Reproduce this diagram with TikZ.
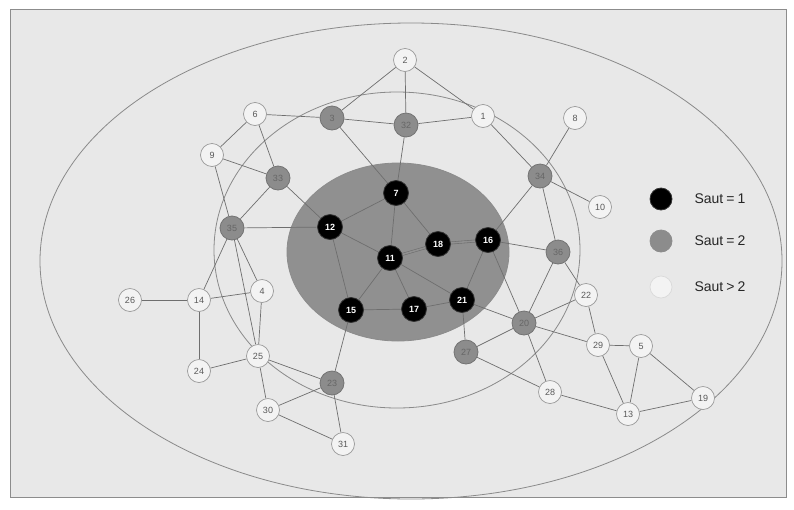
\documentclass[tikz,border=0pt]{standalone}
\usepackage{fontspec}
\setmainfont{Liberation Sans}
\pgfdeclarelayer{bg}
\pgfdeclarelayer{edges}
\pgfsetlayers{bg,edges,main}
\definecolor{bgray}{HTML}{E8E8E8}
\definecolor{ringc}{HTML}{8A8A8A}
\definecolor{innerc}{HTML}{909090}
\definecolor{edgec}{HTML}{6E6E6E}
\definecolor{gnode}{HTML}{8C8C8C}
\definecolor{wnode}{HTML}{F3F3F3}
\tikzset{
  hopone/.style={circle, fill=black, draw=black!80, line width=0.8pt, minimum size=25pt, inner sep=0pt, text=white, font=\fontsize{9}{9}\selectfont\bfseries},
  hoptwo/.style={circle, fill=gnode, draw=black!55, line width=0.8pt, minimum size=24pt, inner sep=0pt, text=black!60, font=\fontsize{9}{9}\selectfont},
  hopmore/.style={circle, fill=wnode, draw=black!40, line width=0.7pt, minimum size=23pt, inner sep=0pt, text=black!65, font=\fontsize{9}{9}\selectfont},
  link/.style={draw=edgec, line width=0.7pt},
  dlink/.style={draw=edgec, double=innerc, double distance=1.6pt, line width=0.6pt},
  ring/.style={draw=ringc, line width=0.8pt},
  legtext/.style={anchor=west, font=\fontsize{14}{14}\selectfont, text=black!85}
}
\begin{document}
\begin{tikzpicture}[x=1pt,y=-1pt]
\useasboundingbox (0,0) rectangle (794,509);
\begin{pgfonlayer}{bg}
\fill[white] (0,0) rectangle (794,509);
\draw[fill=bgray, draw=black!45, line width=0.8pt] (10,9) rectangle (786,497);
\draw[ring] (411,261) ellipse [x radius=371, y radius=238];
\draw[ring] (397,250) ellipse [x radius=183, y radius=158];
\draw[fill=innerc, draw=black!45, line width=0.8pt] (398,252) ellipse [x radius=111, y radius=89];
\end{pgfonlayer}
% hop > 2
\node[hopmore] (n2) at (405,60) {2};
\node[hopmore] (n1) at (483,116) {1};
\node[hopmore] (n6) at (255,114) {6};
\node[hopmore] (n8) at (575,118) {8};
\node[hopmore] (n9) at (212,155) {9};
\node[hopmore] (n10) at (600,207) {10};
\node[hopmore] (n26) at (130,300) {26};
\node[hopmore] (n14) at (199,300) {14};
\node[hopmore] (n4) at (262,291) {4};
\node[hopmore] (n22) at (586,295) {22};
\node[hopmore] (n25) at (258,356) {25};
\node[hopmore] (n24) at (199,371) {24};
\node[hopmore] (n29) at (598,345) {29};
\node[hopmore] (n5) at (641,346) {5};
\node[hopmore] (n28) at (550,392) {28};
\node[hopmore] (n19) at (703,398) {19};
\node[hopmore] (n13) at (628,414) {13};
\node[hopmore] (n30) at (268,410) {30};
\node[hopmore] (n31) at (343,444) {31};
% hop = 1
\node[hopone] (n7) at (396,193) {7};
\node[hopone] (n12) at (330,227) {12};
\node[hopone] (n11) at (390,258) {11};
\node[hopone] (n18) at (438,244) {18};
\node[hopone] (n16) at (488,240) {16};
\node[hopone] (n15) at (351,310) {15};
\node[hopone] (n17) at (414,309) {17};
\node[hopone] (n21) at (462,300) {21};
% hop = 2
\node[hoptwo] (n3) at (332,118) {3};
\node[hoptwo] (n32) at (406,125) {32};
\node[hoptwo] (n33) at (278,178) {33};
\node[hoptwo] (n34) at (540,176) {34};
\node[hoptwo] (n35) at (232,228) {35};
\node[hoptwo] (n36) at (558,252) {36};
\node[hoptwo] (n20) at (524,323) {20};
\node[hoptwo] (n27) at (466,352) {27};
\node[hoptwo] (n23) at (332,383) {23};
\begin{pgfonlayer}{edges}
\foreach \a/\b in {n2/n32, n2/n3, n2/n1, n6/n3, n3/n32, n32/n1, n6/n33, n6/n9, n9/n33, n9/n35, n33/n35, n33/n12, n3/n7, n32/n7, n1/n34, n8/n34, n34/n10, n34/n16, n34/n36, n16/n36, n36/n20, n36/n22, n20/n22, n22/n29, n20/n29, n29/n5, n29/n13, n5/n13, n5/n19, n13/n19, n28/n13, n20/n28, n27/n28, n20/n27, n21/n27, n21/n20, n16/n20, n16/n21, n7/n12, n7/n11, n7/n18, n12/n11, n12/n15, n12/n35, n11/n15, n11/n17, n11/n21, n15/n17, n17/n21, n15/n23, n23/n25, n35/n14, n35/n25, n35/n4, n14/n26, n14/n24, n14/n4, n4/n25, n25/n24, n25/n30, n30/n23, n30/n31, n23/n31}
  \draw[link] (\a) -- (\b);
\draw[dlink] (n11) -- (n18);
\draw[dlink] (n18) -- (n16);
\end{pgfonlayer}
% legend
\node[hopone, minimum size=22pt] (lg1) at (661,199) {};
\node[hoptwo, minimum size=22pt, draw=gnode] (lg2) at (661,241) {};
\node[hopmore, minimum size=22pt, draw=black!15] (lg3) at (661,287) {};
\node[legtext] (lt1) at (691,199) {Saut\hspace{3pt}=\hspace{3pt}1};
\node[legtext] (lt2) at (691,241) {Saut\hspace{3pt}=\hspace{3pt}2};
\node[legtext] (lt3) at (691,287) {Saut\hspace{3pt}>\hspace{3pt}2};
\end{tikzpicture}
\end{document}
